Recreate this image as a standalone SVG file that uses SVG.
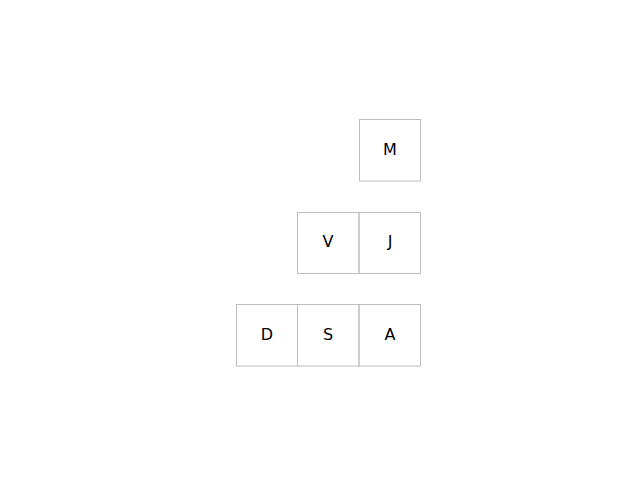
<svg xmlns="http://www.w3.org/2000/svg" width="640" height="480" viewBox="0 0 640 480">
<style>
.box{fill:none;stroke:#bdbdbd;stroke-width:1}
.lbl{font-family:"DejaVu Sans",sans-serif;font-size:16px;fill:#000;text-anchor:middle;dominant-baseline:central}
</style>
<rect width="640" height="480" fill="#fff"/>
<g id="node-M"><rect class="box" x="359.5" y="119.5" width="61" height="61.5"/><text class="lbl" x="390" y="149">M</text></g>
<g id="node-V"><rect class="box" x="297.5" y="212.5" width="61.5" height="61"/><text class="lbl" x="328" y="241">V</text></g>
<g id="node-J"><rect class="box" x="359" y="212.5" width="61.5" height="61"/><text class="lbl" x="390" y="241">J</text></g>
<g id="node-D"><rect class="box" x="236.5" y="304.5" width="61" height="61.5"/><text class="lbl" x="267" y="334">D</text></g>
<g id="node-S"><rect class="box" x="297.5" y="304.5" width="61.5" height="61.5"/><text class="lbl" x="328" y="334">S</text></g>
<g id="node-A"><rect class="box" x="359" y="304.5" width="61.5" height="61.5"/><text class="lbl" x="390" y="334">A</text></g>
<g id="connectors"></g>
</svg>
